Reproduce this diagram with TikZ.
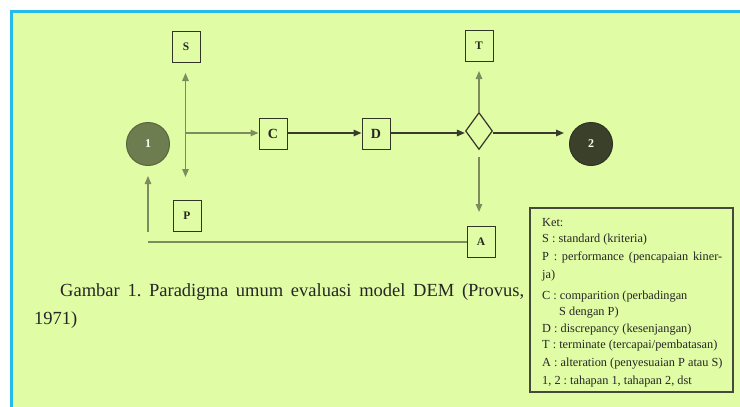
\documentclass[tikz,border=0pt]{standalone}
\usepackage{fontspec}
\setmainfont{Liberation Serif}
\usetikzlibrary{arrows.meta,shapes.geometric}
\definecolor{bg}{RGB}{224,252,164}
\definecolor{bluebd}{RGB}{36,186,236}
\definecolor{garr}{RGB}{125,140,95}
\definecolor{darr}{RGB}{55,58,45}
\definecolor{boxbd}{RGB}{50,52,40}
\definecolor{cfillA}{RGB}{110,125,80}
\definecolor{cfillB}{RGB}{58,64,42}
\frenchspacing
\begin{document}
\begin{tikzpicture}[x=1pt,y=-1pt,
  box/.style={draw=boxbd, line width=1pt, minimum width=28pt, minimum height=31pt, inner sep=0pt, fill=bg, text=black!85, font=\fontsize{11.5}{12}\selectfont\bfseries},
  bigbox/.style={box, font=\fontsize{14}{15}\selectfont\bfseries},
  stage/.style={circle, minimum size=43pt, inner sep=0pt, line width=1pt, text=white!85!bg, font=\fontsize{12}{12}\selectfont\bfseries},
  garrow/.style={draw=garr, line width=1.3pt, -{Triangle[length=8pt,width=6.5pt]}},
  gline/.style={draw=garr, line width=1.3pt},
  darrow/.style={draw=darr, line width=1.5pt, -{Triangle[length=8pt,width=6.5pt]}},
  ket/.style={anchor=west, inner sep=0pt, text height=8.5pt, text depth=2.5pt, font=\fontsize{12.3}{14}\selectfont, text=black!85},
  capt/.style={anchor=west, inner sep=0pt, text height=12pt, text depth=4pt, font=\fontsize{18.5}{20}\selectfont, text=black!85}
]
\useasboundingbox (0,0) rectangle (740,407);
\fill[white] (0,0) rectangle (740,407);
\fill[bg] (11,11) rectangle (740,407);
\draw[bluebd, line width=3pt] (11.5,407) -- (11.5,11.5) -- (740,11.5);

% nodes
\node[stage, fill=cfillA, draw=cfillA!80!black] (n1) at (148,144) {1};
\node[stage, fill=cfillB, draw=cfillB!80!black] (n2) at (591,144) {2};
\node[box] (S) at (186,47) {S};
\node[box] (P) at (187,216) {P};
\node[bigbox] (C) at (273,133.5) {C};
\node[bigbox] (D) at (376,133.5) {D};
\node[box] (T) at (479,46) {T};
\node[box] (A) at (481,242) {A};
\node[diamond, draw=boxbd, line width=1.2pt, minimum width=27pt, minimum height=37pt, inner sep=0pt, aspect=0.72] (dm) at (479,131) {};

\coordinate (j1) at (185.5,133);
\coordinate (s1) at (185.5,62);
\coordinate (p1) at (185.5,200);
\coordinate (r1) at (148,242);
\coordinate (r2) at (148,232);

% connectors
\draw[gline, {Triangle[length=8pt,width=6.5pt]}-{Triangle[length=8pt,width=6.5pt]}, shorten <=11pt, shorten >=23pt] (s1) -- (p1);
\draw[garrow] (j1) -- (j1 -| C.west);
\draw[darrow] (j1 -| C.east) -- (j1 -| D.west);
\draw[darrow] (j1 -| D.east) -- (j1 -| dm.west);
\draw[garrow, shorten >=9pt] (dm.north) -- (T.south);
\draw[darrow, shorten >=5pt] (dm.east |- j1) -- (n2.west |- j1);
\draw[garrow, shorten <=7pt, shorten >=14pt] (dm.south) -- (dm.south |- A.north);
\draw[gline] (A.west) -- (r1);
\draw[garrow, shorten >=10pt] (r2) -- (n1.south);

% caption
\node[capt] (cap1) at (60,292) {\makebox[464pt][s]{Gambar 1. Paradigma umum evaluasi model DEM (Provus,}};
\node[capt] (cap2) at (34,320) {1971)};

% legend
\node[draw=boxbd!90, line width=1.5pt, minimum width=203pt, minimum height=184pt, inner sep=0pt] (leg) at (631.5,300) {};
\node[ket] (k0) at (542,223) {Ket:};
\node[ket] (k1) at (542,239) {S : standard (kriteria)};
\node[ket] (k2) at (542,257) {\makebox[180pt][s]{P : performance (pencapaian kiner-}};
\node[ket] (k3) at (542,275) {ja)};
\node[ket] (k4) at (542,296) {C : comparition (perbadingan};
\node[ket] (k5) at (559,312) {S dengan P)};
\node[ket] (k6) at (542,329) {D : discrepancy (kesenjangan)};
\node[ket] (k7) at (542,345) {T : terminate (tercapai/pembatasan)};
\node[ket] (k8) at (542,363) {A : alteration (penyesuaian P atau S)};
\node[ket] (k9) at (542,381) {1, 2 : tahapan 1, tahapan 2, dst};
\end{tikzpicture}
\end{document}
